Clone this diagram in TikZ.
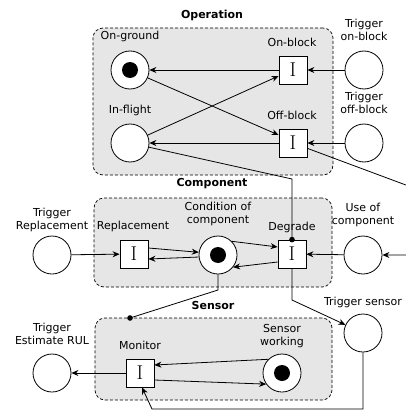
\documentclass[tikz,border=0pt]{standalone}
\usepackage{fontspec}
\newfontfamily\dejavu{DejaVu Sans}
\usetikzlibrary{arrows.meta}
\definecolor{boxgray}{HTML}{E6E6E6}
\tikzset{
  place/.style={circle, draw, fill=white, minimum size=38pt, inner sep=0pt, line width=0.8pt},
  trans/.style={rectangle, draw, fill=white, minimum size=28pt, inner sep=0pt, line width=0.8pt, font=\fontsize{20}{20}\selectfont},
  token/.style={circle, fill=black, minimum size=16pt, inner sep=0pt},
  lbl/.style={font=\dejavu\fontsize{11}{12.5}\selectfont, align=center, inner sep=0pt},
  ttl/.style={font=\dejavu\bfseries\fontsize{11}{12.5}\selectfont, inner sep=0pt},
  subnet/.style={draw, dash pattern=on 3pt off 2pt, rounded corners=10pt, fill=boxgray, line width=0.7pt},
  arc/.style={-{Stealth[length=7pt,width=6pt]}, line width=0.8pt},
  dotarc/.style={-{Circle[length=5.5pt]}, shorten >=-2.75pt, line width=0.8pt},
}
\begin{document}
\begin{tikzpicture}[x=1pt,y=-1pt]
\useasboundingbox (0,0) rectangle (405,412);
% subnet boxes
\node[subnet, minimum width=240pt, minimum height=147pt] (opbox) at (213,101.5) {};
\node[subnet, minimum width=238pt, minimum height=89pt] (compbox) at (213,242.5) {};
\node[subnet, minimum width=237pt, minimum height=82pt] (sensbox) at (213.5,359) {};
\node[ttl] (topt) at (212,15) {Operation};
\node[ttl] (tcomp) at (212,184) {Component};
\node[ttl] (tsens) at (213,305) {Sensor};
% operation
\node[place] (onground) at (130,70) {};
\node[token] (tok1) at (onground) {};
\node[place] (inflight) at (130,143) {};
\node[trans] (onblock) at (293,70) {I};
\node[trans] (offblock) at (293,143) {I};
\node[place] (trigon) at (364,70) {};
\node[place] (trigoff) at (364,143) {};
\node[lbl] (longround) at (130,36) {On-ground};
\node[lbl] (lonblock) at (292,42) {On-block};
\node[lbl] (linflight) at (130,110) {In-flight};
\node[lbl] (loffblock) at (292,115) {Off-block};
\node[lbl] (ltrigon) at (364,30) {Trigger\\on-block};
\node[lbl] (ltrigoff) at (364,103) {Trigger\\off-block};
% component
\node[place] (trigrepl) at (52,255) {};
\node[trans] (repl) at (134,254) {I};
\node[place] (cond) at (218,255) {};
\node[token] (tok2) at (cond) {};
\node[trans] (degrade) at (292,254) {I};
\node[place] (usecomp) at (363,255) {};
\node[lbl] (ltrigrepl) at (52,220) {Trigger\\Replacement};
\node[lbl] (lrepl) at (133,226) {Replacement};
\node[lbl] (lcond) at (218,214) {Condition of\\component};
\node[lbl] (ldegrade) at (292,227) {Degrade};
\node[lbl] (lusecomp) at (363,215) {Use of\\component};
% sensor
\node[place] (trigrul) at (52,373) {};
\node[trans] (monitor) at (140,373) {I};
\node[place] (sensw) at (282,373) {};
\node[token] (tok3) at (sensw) {};
\node[place] (trigsens) at (363,333) {};
\node[lbl] (ltrigrul) at (52,334) {Trigger\\Estimate RUL};
\node[lbl] (lmonitor) at (140,345) {Monitor};
\node[lbl] (lsensw) at (282,336) {Sensor\\working};
\node[lbl] (ltrigsens) at (363,302) {Trigger sensor};
% operation arcs
\draw[arc] (onblock) -- (onground);
\draw[arc] (trigon) -- (onblock);
\draw[arc] (onground.-24) -- ([yshift=8pt]offblock.west);
\draw[arc] (inflight.24) -- ([yshift=-6pt]onblock.west);
\draw[arc] (offblock) -- (inflight);
\draw[arc] (trigoff) -- (offblock);
\coordinate (b1) at (292,179);
\draw[dotarc] (inflight) -- (b1) -- (degrade.north);
\coordinate (b2) at (430,194);
\coordinate (b3) at (430,255);
\draw[arc] (offblock) -- (b2) -- (b3) -- (usecomp);
% component arcs
\draw[arc] (trigrepl) -- (repl);
\draw[arc] ([yshift=6pt]repl.east) -- (cond.172);
\draw[arc] (cond.186) -- ([yshift=-5pt]repl.east);
\draw[arc] (cond.45) -- ([yshift=7pt]degrade.west);
\draw[arc] ([yshift=-8pt]degrade.west) -- (cond.-39);
\draw[arc] (usecomp) -- (degrade);
\coordinate (b4) at (218,290);
\coordinate (sdot) at (130,318);
\draw[dotarc] (cond.south) -- (b4) -- (sdot);
\coordinate (b5) at (292,300);
\draw[arc] (degrade.south) -- (b5) -- (trigsens);
% sensor arcs
\draw[arc] (monitor) -- (trigrul);
\draw[arc] (sensw.135) -- ([yshift=8pt]monitor.east);
\draw[arc] ([yshift=-7pt]monitor.east) -- (sensw.215);
\coordinate (b6) at (363,409);
\coordinate (b7) at (152,409);
\draw[arc] (trigsens.south) -- (b6) -- (b7) -- ([xshift=2pt]monitor.south);
\end{tikzpicture}
\end{document}
